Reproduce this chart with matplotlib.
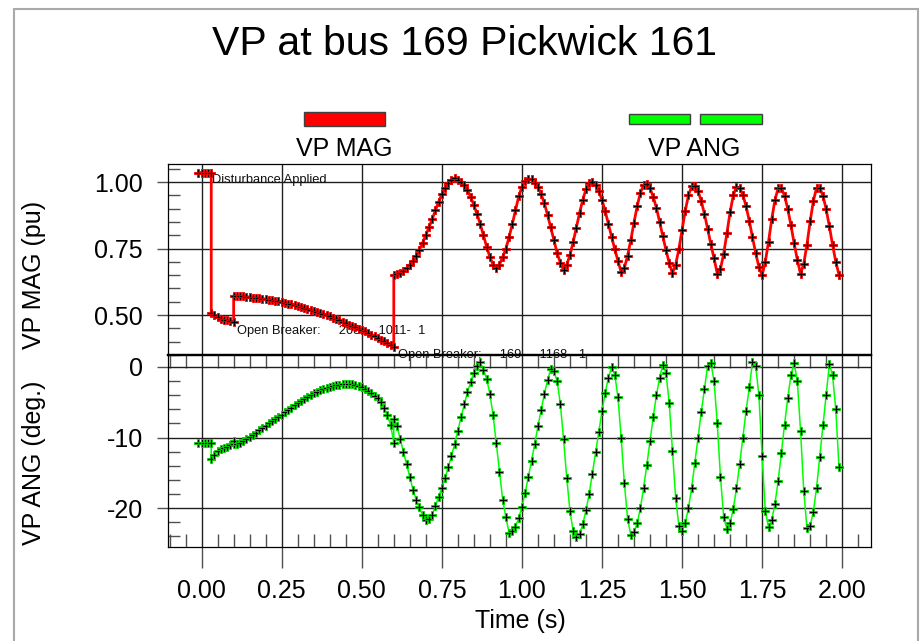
"""VP at bus 169 Pickwick 161 -- two stacked channel plots (magnitude / angle)."""
import numpy as np
import matplotlib
matplotlib.use("Agg")
import matplotlib.pyplot as plt
from matplotlib.patches import Rectangle
from matplotlib.ticker import MultipleLocator, FormatStrFormatter

plt.rcParams['font.family'] = ['Liberation Sans', 'DejaVu Sans']
plt.rcParams['axes.unicode_minus'] = False

# ------------------------------------------------------------------
# Data: channel samples, one list per switching interval, step DT
# ------------------------------------------------------------------
DT = 0.01
SEG_START = [-0.01, 0.03, 0.10, 0.60]   # start of each interval (s)

mag_pre = [1.036, 1.036, 1.036, 1.036, 1.036]
mag_fault = [0.509, 0.500, 0.492, 0.487, 0.483, 0.480, 0.477, 0.474]
mag_open1 = [
    0.573, 0.572, 0.571, 0.570, 0.569, 0.568, 0.566, 0.565, 0.563, 0.562,
    0.560, 0.558, 0.556, 0.554, 0.552, 0.549, 0.546, 0.543, 0.541, 0.538,
    0.535, 0.531, 0.528, 0.524, 0.520, 0.516, 0.512, 0.508, 0.503, 0.499,
    0.495, 0.490, 0.485, 0.480, 0.474, 0.469, 0.464, 0.459, 0.454, 0.449,
    0.444, 0.439, 0.433, 0.427, 0.421, 0.415, 0.408, 0.402, 0.395, 0.388,
    0.381,
]
mag_open2 = [
    0.652, 0.655, 0.660, 0.667, 0.677, 0.690, 0.705, 0.724, 0.746, 0.772,
    0.801, 0.830, 0.861, 0.894, 0.926, 0.954, 0.978, 0.997, 1.009, 1.014,
    1.009, 1.002, 0.989, 0.970, 0.944, 0.914, 0.879, 0.842, 0.800, 0.757,
    0.718, 0.690, 0.677, 0.690, 0.718, 0.750, 0.793, 0.842, 0.894, 0.946,
    0.982, 1.004, 1.012, 1.010, 0.998, 0.982, 0.955, 0.921, 0.877, 0.830,
    0.782, 0.733, 0.697, 0.669, 0.689, 0.726, 0.774, 0.829, 0.884, 0.933,
    0.973, 0.996, 1.002, 0.990, 0.967, 0.933, 0.891, 0.843, 0.794, 0.747,
    0.704, 0.661, 0.678, 0.723, 0.782, 0.848, 0.910, 0.960, 0.988, 0.993,
    0.976, 0.945, 0.903, 0.851, 0.796, 0.744, 0.696, 0.657, 0.690, 0.747,
    0.819, 0.892, 0.950, 0.984, 0.987, 0.966, 0.929, 0.880, 0.824, 0.766,
    0.713, 0.656, 0.673, 0.731, 0.807, 0.887, 0.950, 0.983, 0.978, 0.952,
    0.909, 0.854, 0.792, 0.733, 0.681, 0.650, 0.700, 0.776, 0.860, 0.932,
    0.977, 0.978, 0.949, 0.900, 0.838, 0.770, 0.708, 0.655, 0.693, 0.765,
    0.852, 0.929, 0.978, 0.978, 0.949, 0.898, 0.834, 0.764, 0.701, 0.652,
]

ang_pre = [-10.8, -10.8, -10.8, -10.8, -10.8]
ang_fault = [-13.1, -12.45, -11.95, -11.62, -11.42, -11.27, -11.08, -10.90]
ang_open1 = [
    -10.45, -10.85, -10.72, -10.47, -10.20, -9.91, -9.60, -9.29, -8.96, -8.63,
    -8.30, -7.98, -7.67, -7.36, -7.06, -6.76, -6.44, -6.12, -5.79, -5.45,
    -5.13, -4.84, -4.56, -4.29, -4.01, -3.72, -3.50, -3.31, -3.14, -2.98,
    -2.84, -2.70, -2.60, -2.51, -2.46, -2.43, -2.43, -2.47, -2.55, -2.69,
    -2.90, -3.10, -3.36, -3.68, -4.05, -4.46, -5.00, -5.80, -6.85, -8.20,
    -10.70,
]
ang_open2 = [
    -7.4, -8.4, -10.2, -12.0, -13.8, -15.6, -17.4, -18.8, -19.9, -21.0,
    -21.7, -21.6, -20.9, -19.7, -18.4, -17.1, -15.7, -14.2, -12.6, -10.9,
    -9.0, -7.1, -5.3, -3.6, -2.1, -0.8, 0.2, 0.7, -0.4, -1.7,
    -3.8, -6.8, -10.8, -14.9, -18.8, -21.3, -23.5, -23.2, -22.6, -21.4,
    -19.8, -17.8, -15.6, -13.3, -10.9, -8.4, -6.1, -3.8, -1.9, -0.3,
    -0.6, -2.0, -5.2, -10.2, -15.7, -20.4, -23.2, -24.1, -23.6, -22.3,
    -20.3, -18.0, -15.1, -12.1, -9.2, -6.3, -3.7, -1.5, 0.0, -1.1,
    -4.3, -10.1, -16.5, -21.5, -23.8, -23.4, -22.1, -20.0, -17.1, -13.9,
    -10.5, -7.1, -4.0, -1.5, 0.3, -0.9, -5.1, -11.9, -18.5, -22.5,
    -23.3, -22.1, -20.0, -17.1, -13.6, -10.0, -6.4, -3.1, 0.2, 0.6,
    -2.0, -8.0, -15.6, -21.2, -23.0, -22.1, -20.1, -17.2, -13.7, -10.0,
    -6.2, -2.9, 0.7, 0.1, -4.0, -12.6, -20.4, -22.7, -21.7, -19.4,
    -16.2, -12.2, -8.2, -4.4, -1.2, 0.6, -2.0, -9.0, -17.5, -22.8,
    -22.5, -20.5, -17.1, -12.7, -8.2, -3.9, 0.45, -1.2, -6.0, -14.1,
]

MAG_SEGS = [mag_pre, mag_fault, mag_open1, mag_open2]
ANG_SEGS = [ang_pre, ang_fault, ang_open1, ang_open2]

EVENTS = [
    (0.031, 0.995, "Disturbance Applied"),
    (0.111, 0.4287, "Open Breaker:     208     1011-  1"),
    (0.614, 0.3405, "Open Breaker:     169     1168-  1"),
]


def stitch(starts, segs):
    t, v = [], []
    for t0, vals in zip(starts, segs):
        t.extend(t0 + DT * np.arange(len(vals)))
        v.extend(vals)
    return np.array(t), np.array(v)


t_mag, v_mag = stitch(SEG_START, MAG_SEGS)
t_ang, v_ang = stitch(SEG_START, ANG_SEGS)

# ------------------------------------------------------------------
# Figure
# ------------------------------------------------------------------
W_PX, H_PX = 921, 641
fig = plt.figure(figsize=(W_PX / 100, H_PX / 100), dpi=100)


def fx(px):
    return px / W_PX


def fy(py):
    return 1 - py / H_PX


left, right = 168, 871
top, mid, bot = 164, 355, 547
ax1 = fig.add_axes([fx(left), fy(mid), fx(right - left), (mid - top) / H_PX])
ax2 = fig.add_axes([fx(left), fy(bot), fx(right - left), (bot - mid) / H_PX], sharex=ax1)
ax2.patch.set_alpha(0)

RED = "#ff0000"
GREEN = "#00ff00"
ax1.plot(t_mag, v_mag, color=RED, lw=2.0, marker="P", ms=5.2,
         mfc="black", mec=RED, mew=0.6, zorder=2)
ax2.plot(t_ang, v_ang, color=GREEN, lw=1.1, marker="P", ms=5.2,
         mfc="black", mec="#00dd00", mew=0.6, zorder=2)

ax1.set_xlim(-0.105, 2.09)
ax1.set_ylim(0.35, 1.068)
ax2.set_ylim(-25.5, 1.7)

TICK_C = "#505050"
GRID_C = "#202020"
for ax in (ax1, ax2):
    ax.set_axisbelow(True)
    ax.grid(True, which="major", color=GRID_C, lw=1.0)
    for sp in ax.spines.values():
        sp.set_color("black")
        sp.set_linewidth(0.9)
    ax.tick_params(axis="y", which="major", direction="out", length=8,
                   width=1, color=TICK_C, labelsize=18, pad=10)
    ax.tick_params(axis="y", which="minor", direction="in", length=8.6,
                   width=1, color=TICK_C)

ax1.spines["bottom"].set_linewidth(1.6)
ax2.spines["top"].set_linewidth(1.6)

ax2.xaxis.set_major_locator(MultipleLocator(0.25))
ax2.xaxis.set_minor_locator(MultipleLocator(0.05))
ax2.xaxis.set_major_formatter(FormatStrFormatter("%.2f"))
ax1.tick_params(axis="x", which="both", length=0, labelbottom=False)
ax2.tick_params(axis="x", which="major", direction="out", length=15, width=1,
                color=TICK_C, labelsize=18, pad=8, top=False)
ax2.tick_params(axis="x", which="minor", direction="in", length=9.5, width=1,
                color=TICK_C, top=True, bottom=True)

ax1.yaxis.set_major_locator(MultipleLocator(0.25))
ax1.yaxis.set_minor_locator(MultipleLocator(0.05))
ax1.yaxis.set_major_formatter(FormatStrFormatter("%.2f"))
ax2.yaxis.set_major_locator(MultipleLocator(10))
ax2.yaxis.set_minor_locator(MultipleLocator(2))
ax2.yaxis.set_major_formatter(FormatStrFormatter("%d"))

for x, y, s in EVENTS:
    ax1.text(x, y, s, fontsize=9.3, va="baseline", ha="left",
             clip_on=False, zorder=1.9, color="#101010")

# titles / labels
fig.text(fx(464.5), fy(55), "VP at bus 169 Pickwick 161", fontsize=29.5,
         ha="center", va="baseline")
fig.text(fx(34), fy(275), "VP MAG (pu)", fontsize=18, rotation=90,
         ha="center", va="center")
fig.text(fx(34), fy(463), "VP ANG (deg.)", fontsize=18, rotation=90,
         ha="center", va="center")
fig.text(fx(520), fy(621), "Time (s)", fontsize=18, ha="center", va="center")

# channel legend
fig.text(fx(344), fy(156.5), "VP MAG", fontsize=18, ha="center", va="baseline")
fig.text(fx(694.5), fy(156.5), "VP ANG", fontsize=18, ha="center", va="baseline")
fig.add_artist(Rectangle((fx(303.5), fy(125.5)), fx(81), 14 / H_PX,
                         transform=fig.transFigure, fc=RED, ec="#404040", lw=1))
for x0 in (628.5, 700):
    fig.add_artist(Rectangle((fx(x0), fy(123.5)), fx(61.5), 9 / H_PX,
                             transform=fig.transFigure, fc=GREEN, ec="#404040", lw=1))

# page border
fig.add_artist(Rectangle((fx(14), -0.05), fx(918 - 14), fy(9) + 0.05,
                         transform=fig.transFigure, fill=False,
                         ec="#a9a9a9", lw=1.5))

fig.savefig("out.png", dpi=100)
